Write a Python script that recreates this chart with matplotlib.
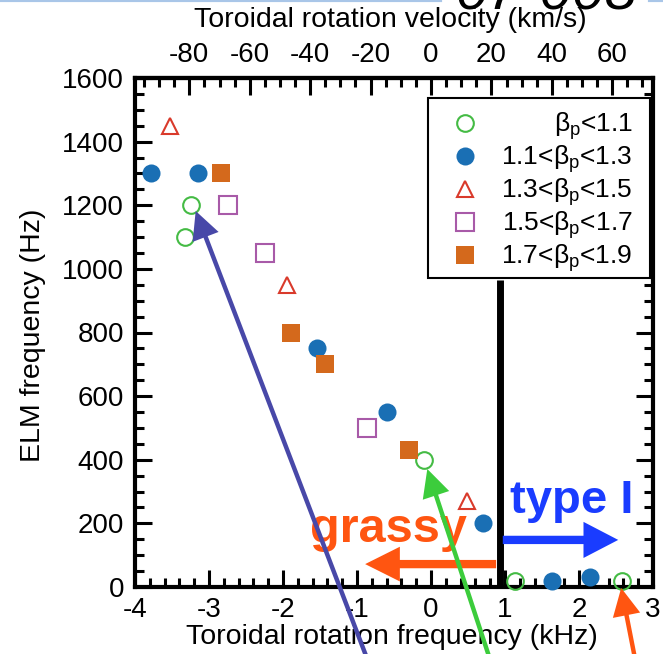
import matplotlib
matplotlib.use("Agg")
import matplotlib.pyplot as plt
from matplotlib.patches import Rectangle
from matplotlib.lines import Line2D
from matplotlib.ticker import MultipleLocator

plt.rcParams['font.family'] = ['Liberation Sans', 'DejaVu Sans']
plt.rcParams['mathtext.fontset'] = 'custom'
plt.rcParams['mathtext.rm'] = 'Liberation Sans'
plt.rcParams['mathtext.it'] = 'Liberation Sans:italic'
plt.rcParams['axes.unicode_minus'] = False

# ELM frequency vs toroidal rotation frequency, grouped by poloidal beta
freq_lt11 = [-3.25, -3.32, -0.09, 1.14, 2.58]
elm_lt11 = [1200, 1100, 400, 20, 20]

freq_11_13 = [-3.78, -3.15, -1.54, -0.60, 0.70, 1.64, 2.15]
elm_11_13 = [1300, 1300, 750, 550, 200, 20, 30]

freq_13_15 = [-3.53, -1.94, 0.48]
elm_13_15 = [1450, 950, 270]

freq_15_17 = [-2.75, -2.25, -0.87]
elm_15_17 = [1200, 1050, 500]

freq_17_19 = [-2.84, -1.89, -1.43, -0.30]
elm_17_19 = [1300, 800, 700, 430]

labels = [r'$\mathrm{\beta_p}$<1.1',
          r'1.1<$\mathrm{\beta_p}$<1.3',
          r'1.3<$\mathrm{\beta_p}$<1.5',
          r'1.5<$\mathrm{\beta_p}$<1.7',
          r'1.7<$\mathrm{\beta_p}$<1.9']

# km/s per kHz of rotation frequency
KMS_PER_KHZ = 24.5

# boundary between grassy and type I ELMs (kHz)
boundary_freq = 0.93
boundary_top = 965

styles = [
    dict(marker='o', ms=12, mfc='none', mec='#44bb44', mew=1.5),
    dict(marker='o', ms=13, mfc='#1a6fb4', mec='#1a6fb4', mew=0),
    dict(marker='^', ms=12, mfc='none', mec='#d93a2b', mew=1.5),
    dict(marker='s', ms=12.5, mfc='none', mec='#a85aa8', mew=1.5),
    dict(marker='s', ms=13.5, mfc='#d4691c', mec='#d4691c', mew=0),
]
series = [(freq_lt11, elm_lt11), (freq_11_13, elm_11_13), (freq_13_15, elm_13_15),
          (freq_15_17, elm_15_17), (freq_17_19, elm_17_19)]

TICK_FS = 20
LABEL_FS = 20.5

fig = plt.figure(figsize=(6.63, 6.54), dpi=100)
ax = fig.add_axes([135 / 663, 1 - 587 / 654, 518 / 663, 509 / 654])

for (xs, ys), st in zip(series, styles):
    ax.plot(xs, ys, ls='none', zorder=5, clip_on=False, **st)

ax.set_xlim(-4, 3)
ax.set_ylim(0, 1600)

ax.xaxis.set_major_locator(MultipleLocator(1))
ax.xaxis.set_minor_locator(MultipleLocator(0.2))
ax.yaxis.set_major_locator(MultipleLocator(200))
ax.yaxis.set_minor_locator(MultipleLocator(50))
ax.tick_params(which='both', direction='in', right=True, top=False,
               labelsize=TICK_FS, width=2.2)
ax.tick_params(which='major', length=12)
ax.tick_params(which='minor', length=6.5)
ax.tick_params(axis='x', pad=7)
ax.tick_params(axis='y', pad=8)
for sp in ax.spines.values():
    sp.set_linewidth(3)

ax.set_xlabel('Toroidal rotation frequency (kHz)', fontsize=LABEL_FS)
ax.xaxis.set_label_coords(0.496, -0.073)
ax.set_ylabel('ELM frequency (Hz)', fontsize=LABEL_FS)
ax.yaxis.set_label_coords(-0.172, 0.495)

# rotation velocity on top
secax = ax.secondary_xaxis('top', functions=(lambda f: f * KMS_PER_KHZ,
                                             lambda v: v / KMS_PER_KHZ))
secax.xaxis.set_major_locator(MultipleLocator(20))
secax.xaxis.set_minor_locator(MultipleLocator(5))
secax.tick_params(which='both', direction='in', labelsize=TICK_FS, width=2.2, pad=7)
secax.tick_params(which='major', length=12)
secax.tick_params(which='minor', length=6.5)
secax.spines['top'].set_linewidth(3)
fig.text(390 / 663, 1 - 20 / 654, 'Toroidal rotation velocity (km/s)',
         fontsize=LABEL_FS, ha='center', va='center')

# grassy / type I boundary
ax.plot([boundary_freq, boundary_freq], [0, boundary_top], color='black',
        lw=5, solid_capstyle='butt', zorder=4)

ax.annotate('', xy=(-0.89, 72), xytext=(boundary_freq - 0.05, 72),
            arrowprops=dict(facecolor='#ff5511', edgecolor='none', width=6,
                            headwidth=25, headlength=25, shrink=0), zorder=4)
ax.annotate('', xy=(2.53, 148), xytext=(boundary_freq + 0.04, 148),
            arrowprops=dict(facecolor='#1a3cff', edgecolor='none', width=6,
                            headwidth=26, headlength=25, shrink=0), zorder=4)
ax.text(-1.63, 141, 'grassy', color='#ff5511', fontsize=35,
        fontweight='bold', ha='left', va='baseline', zorder=3)
ax.text(1.07, 232, 'type I', color='#1a3cff', fontsize=34,
        fontweight='bold', ha='left', va='baseline', zorder=3)

# pointer arrows coming up from below the frame
pointers = [((-3.18, 1182), (-0.74, -300), '#4848a8'),
            ((-0.05, 371), (0.90, -300), '#3ccc3c'),
            ((2.57, -3), (2.82, -300), '#ff5511')]
for tip, tail, c in pointers:
    ax.annotate('', xy=tip, xytext=tail, annotation_clip=False,
                arrowprops=dict(facecolor=c, edgecolor='none', width=3.2,
                                headwidth=20, headlength=20, shrink=0),
                zorder=6)

# legend drawn by hand so that the labels are right aligned
box = Rectangle((0.566, 0.607), 0.428, 0.354, transform=ax.transAxes,
                facecolor='white', edgecolor='black', lw=1.5, zorder=7)
ax.add_patch(box)
row_y = [0.9116, 0.8468, 0.7819, 0.7171, 0.6523]
for yy, st, lab in zip(row_y, styles, labels):
    ax.add_line(Line2D([0.637], [yy], transform=ax.transAxes, ls='none',
                       zorder=8, **st))
    ax.text(0.961, yy - 9 / 509, lab, transform=ax.transAxes, ha='right',
            va='baseline', fontsize=19, zorder=8)

# header strip and shot label
fig.add_artist(Line2D([0, 440 / 663], [1, 1], color='#a9c6e8', lw=3,
                      transform=fig.transFigure))
fig.add_artist(Line2D([650 / 663, 1], [1, 1], color='#a9c6e8', lw=3,
                      transform=fig.transFigure))
fig.text(455 / 663, 1 - 9 / 654, '07-008', fontsize=42, style='italic',
         ha='left', va='baseline')

fig.savefig('out.png', dpi=100)
